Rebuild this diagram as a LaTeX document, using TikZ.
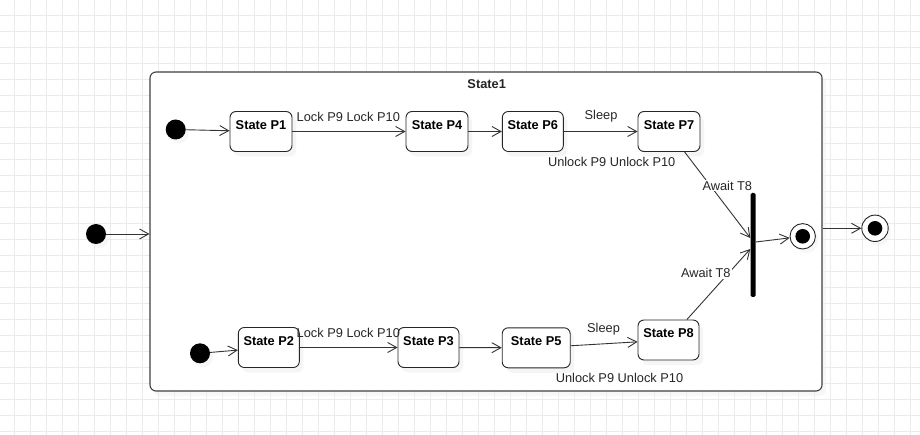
\documentclass[tikz,border=0pt]{standalone}
\usepackage{fontspec}
\setmainfont{Liberation Sans}
\usepackage{tikz}
\usetikzlibrary{arrows.meta, shadows}

\begin{document}
\begin{tikzpicture}[
    x=1pt, y=-1pt,
    gridline/.style={black!8, line width=1pt},
    container/.style={
        rectangle, rounded corners=6pt, draw=black!75, fill=white,
        line width=1.1pt, minimum width=672pt, minimum height=319pt,
        drop shadow={shadow xshift=4pt, shadow yshift=-5pt, fill=black!6}
    },
    statebox/.style={
        rectangle, rounded corners=6pt, draw=black!85, fill=white,
        line width=0.9pt, minimum width=#1, minimum height=40pt,
        inner sep=0pt, text height=9.5pt, text depth=14.3pt,
        font=\fontsize{12.8}{15}\selectfont\bfseries,
        drop shadow={shadow xshift=4pt, shadow yshift=-5pt, fill=black!7}
    },
    statebox/.default=62pt,
    startdot/.style={
        circle, fill=black, minimum size=20pt, inner sep=0pt,
        drop shadow={shadow xshift=3pt, shadow yshift=-4pt, fill=black!6}
    },
    enddot/.style={
        circle, draw=black!85, fill=white, line width=0.9pt,
        minimum size=#1, inner sep=0pt,
        path picture={\fill[black] (path picture bounding box.center) circle (7.3pt);},
        drop shadow={shadow xshift=3pt, shadow yshift=-4pt, fill=black!6}
    },
    joinbar/.style={
        rectangle, fill=black, rounded corners=1.5pt,
        minimum width=5pt, minimum height=104pt, inner sep=0pt
    },
    lbl/.style={
        font=\fontsize{12.8}{15}\selectfont, text=black!85, inner sep=1pt
    },
    arr/.style={-{Straight Barb[length=9pt, width=10pt]}, line width=0.9pt, black!80}
]
\useasboundingbox (0,0) rectangle (920,435);

% Background grid
\foreach \gx in {14,30,...,910}
    \draw[gridline] (\gx,0) -- (\gx,435);
\foreach \gy in {15.7,31.7,...,431.7}
    \draw[gridline] (0,\gy) -- (920,\gy);

% Composite state
\node[container] (state1) at (486,231.5) {};
\node[lbl, font=\fontsize{12.8}{15}\selectfont\bfseries] (s1title) at (486.7,84.3) {State1};

% Start and end points
\node[startdot] (i0) at (96,234) {};
\node[startdot] (i1) at (175.7,129.5) {};
\node[startdot] (i2) at (200,353.3) {};
\node[enddot=25.4pt] (fin1) at (802.7,236.3) {};
\node[enddot=26.4pt] (fin0) at (875,228.3) {};

% Upper region
\node[statebox] (p1) at (261,131.5) {State P1};
\node[statebox] (p4) at (437,131.5) {State P4};
\node[statebox=61pt] (p6) at (532.8,131.5) {State P6};
\node[statebox] (p7) at (669,131.5) {State P7};

% Lower region
\node[statebox=61pt] (p2) at (268.8,347.5) {State P2};
\node[statebox=61pt] (p3) at (428.5,347.5) {State P3};
\node[statebox=68pt] (p5) at (536.2,347.8) {State P5};
\node[statebox=61pt] (p8) at (668.5,340) {State P8};

% Join bar
\node[joinbar] (join) at (753,245) {};

% Transitions
\draw[arr] (i0) -- (i0 -| state1.west);
\draw[arr] (i1) -- (p1);
\draw[arr] (p1) -- (p4);
\draw[arr] (p4) -- (p6);
\draw[arr] (p6) -- (p7);
\draw[arr] (p7) -- ([yshift=7pt]join.west);
\draw[arr] (i2) -- (p2);
\draw[arr] (p2) -- (p3);
\draw[arr] (p3) -- (p5);
\draw[arr] (p5) -- (p8);
\draw[arr] (p8) -- ([yshift=-4pt]join.west);
\draw[arr] ([yshift=3pt]join.east) -- (fin1);
\draw[arr] (state1.east |- fin0) -- (fin0);

% Transition labels
\node[lbl] (l1) at (348.3,116.7) {Lock P9 Lock P10};
\node[lbl] (l2) at (601,116.5) {Sleep};
\node[lbl] (l3) at (611.7,161.7) {Unlock P9 Unlock P10};
\node[lbl, fill=white] (l4) at (727.3,185.7) {Await T8};
\node[lbl] (l5) at (348.3,333.3) {Lock P9 Lock P10};
\node[lbl] (l6) at (603.5,329) {Sleep};
\node[lbl] (l7) at (619.5,378.3) {Unlock P9 Unlock P10};
\node[lbl, fill=white] (l8) at (705.8,273.3) {Await T8};

\end{tikzpicture}
\end{document}
